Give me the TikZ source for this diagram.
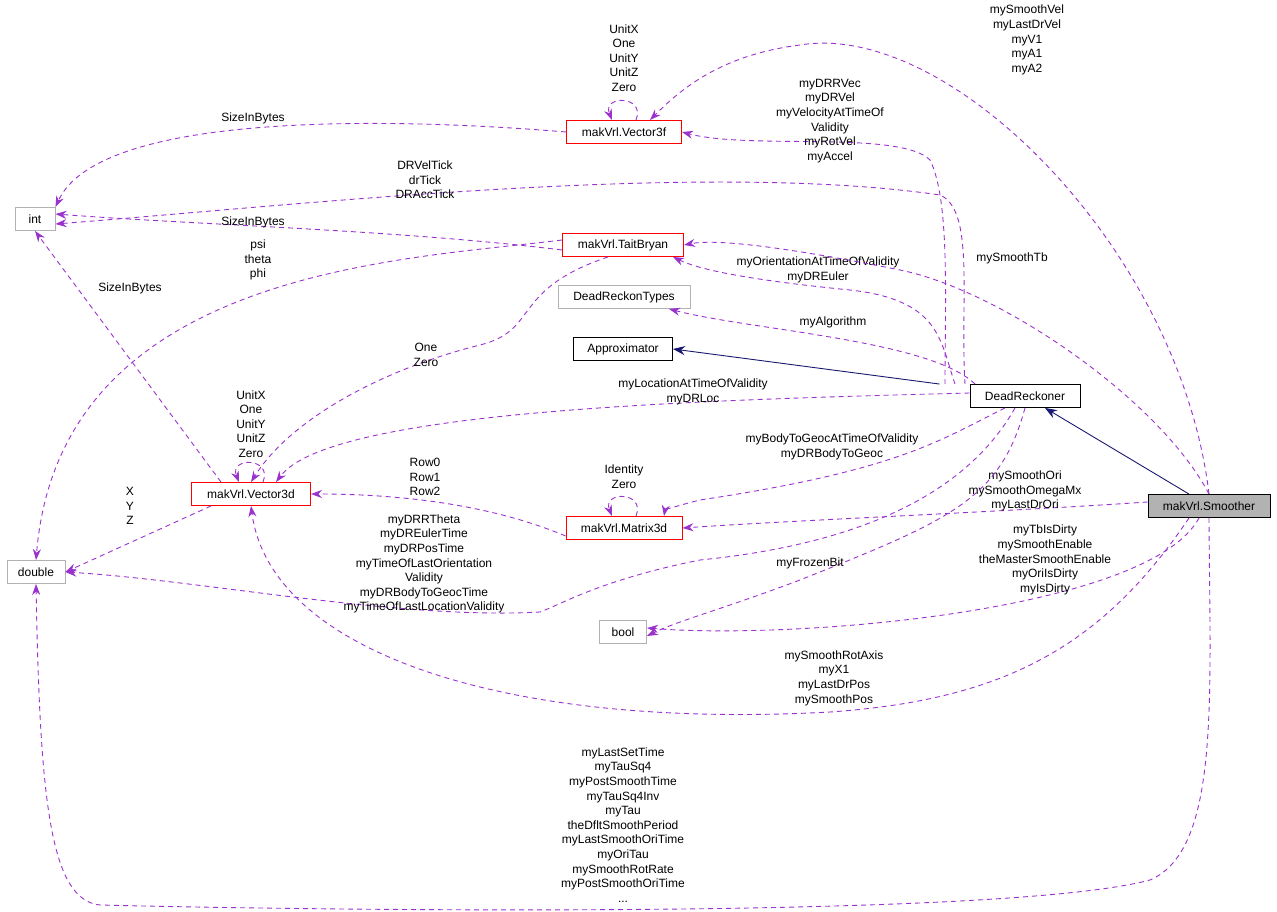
\documentclass[tikz,border=0pt]{standalone}
\usepackage{fontspec}
\setmainfont{Liberation Sans}
\usetikzlibrary{arrows.meta}
\definecolor{pur}{HTML}{9A32CD}
\definecolor{nav}{HTML}{191970}
\begin{document}
\begin{tikzpicture}[x=1pt,y=-1pt,line width=0.9pt,
  box/.style={draw,minimum height=23pt,inner sep=4pt,font=\fontsize{12}{13}\selectfont,fill=white},
  red/.style={box,draw=red},
  gry/.style={box,draw=gray!60},
  blk/.style={box,draw=black},
  dep/.style={draw=pur,dash pattern=on 5pt off 4pt,-{Stealth[length=11pt,width=8pt]}},
  inh/.style={draw=nav,-{Stealth[length=12pt,width=9pt]}},
  lab/.style={align=center,inner sep=0pt,font=\fontsize{12}{14.6}\selectfont}]
\useasboundingbox (0,0) rectangle (1277,912);
\node[gry,minimum width=40pt] (int) at (35,219) {int};
\node[gry,minimum width=58pt] (dbl) at (36,572) {double};
\node[red,minimum width=115pt] (v3f) at (624,132) {makVrl.Vector3f};
\node[red,minimum width=121pt] (tb) at (623,245) {makVrl.TaitBryan};
\node[gry,minimum width=132pt] (drt) at (624,297) {DeadReckonTypes};
\node[blk,minimum width=99pt] (apx) at (623,349) {Approximator};
\node[blk,minimum width=110pt] (dr) at (1025,396) {DeadReckoner};
\node[red,minimum width=119pt] (v3d) at (251,494) {makVrl.Vector3d};
\node[red,minimum width=116pt] (m3d) at (624,528) {makVrl.Matrix3d};
\node[box,fill=gray!60,minimum width=122pt] (sm) at (1209,506) {makVrl.Smoother};
\node[gry,minimum width=47pt] (bool) at (623,632) {bool};

% self loops
\draw[dep] ([xshift=12pt]v3f.north) .. controls +(10,-25) and +(-10,-25) .. ([xshift=-12pt]v3f.north);
\draw[dep] ([xshift=12pt]v3d.north) .. controls +(10,-25) and +(-10,-25) .. ([xshift=-12pt]v3d.north);
\draw[dep] ([xshift=12pt]m3d.north) .. controls +(10,-25) and +(-10,-25) .. ([xshift=-12pt]m3d.north);
\node[lab] (l2) at (624,58) {UnitX\\One\\UnitY\\UnitZ\\Zero};
\node[lab] (l16) at (251,424) {UnitX\\One\\UnitY\\UnitZ\\Zero};
\node[lab] (l19) at (624,477) {Identity\\Zero};

\draw[dep] (v3f.west) .. controls (400,118) and (100,110) .. (int.north east);
\node[lab] at (253,118) {SizeInBytes};
\draw[dep] (sm.north) .. controls (1180,250) and (950,20) .. (800,45) .. controls (720,55) and (680,90) .. (650,120);
\node[lab] at (1027,40) {mySmoothVel\\myLastDrVel\\myV1\\myA1\\myA2};
\draw[dep] ([xshift=-80pt]dr.north) .. controls (945,300) and (950,200) .. (930,160) .. controls (900,130) and (750,150) .. (v3f.east);
\node[lab] at (830,121) {myDRRVec\\myDRVel\\myVelocityAtTimeOf\\Validity\\myRotVel\\myAccel};
\draw[dep] ([xshift=-60pt]dr.north) .. controls (960,300) and (975,210) .. (940,195) .. controls (700,160) and (300,205) .. ([yshift=-5pt]int.east);
\node[lab] at (425,180) {DRVelTick\\drTick\\DRAccTick};
\draw[dep] ([yshift=-5pt]tb.west) .. controls (400,230) and (200,225) .. ([yshift=5pt]int.east);
\node[lab] at (253,222) {SizeInBytes};
\draw[dep] ([yshift=5pt]tb.west) .. controls (400,260) and (60,270) .. (dbl.north);
\node[lab] at (258,260) {psi\\theta\\phi};
\draw[dep] ([xshift=-15pt]tb.south) .. controls (510,290) and (540,330) .. (480,345) .. controls (380,370) and (290,420) .. (v3d.north);
\node[lab] at (426,355) {One\\Zero};
\draw[dep] ([xshift=-70pt]dr.north) .. controls (940,340) and (940,300) .. (850,290) .. controls (750,280) and (700,270) .. ([xshift=50pt]tb.south);
\node[lab] at (818,270) {myOrientationAtTimeOfValidity\\myDREuler};
\draw[dep] (sm.north) .. controls (1160,400) and (1000,290) .. (900,270) .. controls (800,250) and (720,238) .. (tb.east);
\node[lab] at (1012,258) {mySmoothTb};
\draw[dep] ([xshift=-50pt]dr.north) .. controls (930,340) and (750,330) .. ([xshift=45pt]drt.south);
\node[lab] at (833,322) {myAlgorithm};
\draw[inh] ([xshift=-30pt]dr.north west) -- (apx.east);
\draw[inh] ([xshift=-20pt]sm.north) -- ([xshift=20pt]dr.south);
\draw[dep] ([yshift=3pt]dr.west) .. controls (700,400) and (330,410) .. ([xshift=25pt]v3d.north);
\node[lab] at (693,392) {myLocationAtTimeOfValidity\\myDRLoc};
\draw[dep] ([xshift=-30pt]v3d.north) -- (int.south);
\node[lab] at (130,288) {SizeInBytes};
\draw[dep] ([xshift=-40pt]v3d.south) -- (dbl.east);
\node[lab] at (130,506) {X\\Y\\Z};
\draw[dep] ([yshift=-8pt]m3d.west) .. controls (480,500) and (380,494) .. (v3d.east);
\node[lab] at (425,477) {Row0\\Row1\\Row2};
\draw[dep] ([xshift=-20pt]dr.south) .. controls (940,440) and (900,470) .. (700,500) .. controls (680,505) and (665,510) .. ([xshift=40pt]m3d.north);
\node[lab] at (832,447) {myBodyToGeocAtTimeOfValidity\\myDRBodyToGeoc};
\draw[dep] ([yshift=4pt]sm.west) .. controls (1000,512) and (800,520) .. (m3d.east);
\node[lab] at (1025,491) {mySmoothOri\\mySmoothOmegaMx\\myLastDrOri};
\draw[dep] ([xshift=-10pt]dr.south) .. controls (980,470) and (900,540) .. (700,560) .. controls (600,580) and (560,605) .. (540,612) .. controls (400,620) and (200,580) .. (dbl.east);
\node[lab] at (424,564) {myDRRTheta\\myDREulerTime\\myDRPosTime\\myTimeOfLastOrientation\\Validity\\myDRBodyToGeocTime\\myTimeOfLastLocationValidity};
\draw[dep] (dr.south) .. controls (1000,500) and (950,520) .. (800,580) .. controls (720,610) and (680,620) .. ([yshift=-4pt]bool.east);
\node[lab] at (810,563) {myFrozenBit};
\draw[dep] ([xshift=-10pt]sm.south) .. controls (1150,610) and (800,640) .. ([yshift=4pt]bool.east);
\node[lab] at (1045,560) {myTbIsDirty\\mySmoothEnable\\theMasterSmoothEnable\\myOriIsDirty\\myIsDirty};
\draw[dep] ([xshift=-20pt]sm.south) .. controls (1100,650) and (1000,700) .. (830,712) .. controls (500,730) and (270,650) .. (v3d.south);
\node[lab] at (834,678) {mySmoothRotAxis\\myX1\\myLastDrPos\\mySmoothPos};
\draw[dep] (sm.south) .. controls (1210,700) and (1220,850) .. (1150,880) .. controls (1000,920) and (300,910) .. (100,905) .. controls (50,900) and (40,800) .. (dbl.south);
\node[lab] at (623,825) {myLastSetTime\\myTauSq4\\myPostSmoothTime\\myTauSq4Inv\\myTau\\theDfltSmoothPeriod\\myLastSmoothOriTime\\myOriTau\\mySmoothRotRate\\myPostSmoothOriTime\\...};
\end{tikzpicture}
\end{document}
